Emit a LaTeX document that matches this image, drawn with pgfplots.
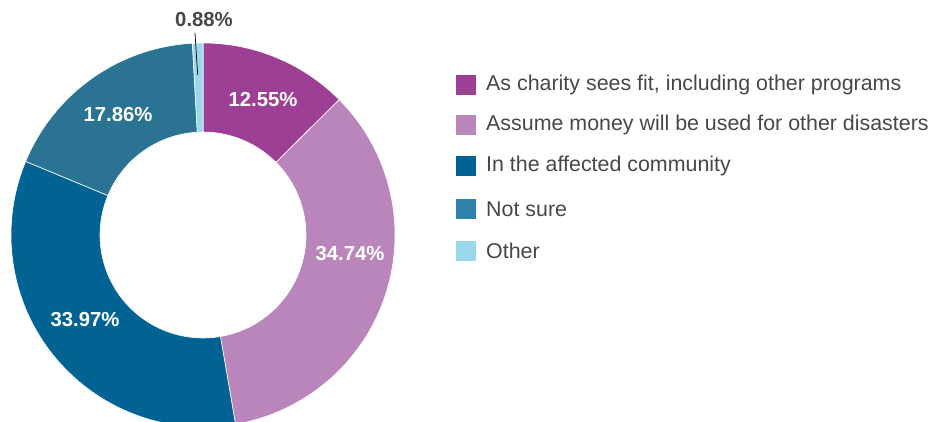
\documentclass[border=0pt]{standalone}
\usepackage{pgfplots}
\pgfplotsset{compat=1.18}
\usepackage{pgfplotstable}
\usepackage{fontspec}
\setmainfont{Liberation Sans}
\definecolor{cA}{HTML}{9C3F95}
\definecolor{cB}{HTML}{BA85BB}
\definecolor{cC}{HTML}{006394}
\definecolor{cD}{HTML}{2A7393}
\definecolor{cDl}{HTML}{2F83AA}
\definecolor{cE}{HTML}{98D8EA}
\definecolor{txt}{HTML}{474747}
\pgfplotstableread{
pct
12.55
34.74
33.97
17.86
0.88
}\data
\pgfplotstablegetelem{0}{pct}\of\data\let\pA\pgfplotsretval
\pgfplotstablegetelem{1}{pct}\of\data\let\pB\pgfplotsretval
\pgfplotstablegetelem{2}{pct}\of\data\let\pC\pgfplotsretval
\pgfplotstablegetelem{3}{pct}\of\data\let\pD\pgfplotsretval
\pgfplotstablegetelem{4}{pct}\of\data\let\pE\pgfplotsretval
\pgfmathsetmacro\tot{\pA+\pB+\pC+\pD+\pE}
\pgfmathsetmacro\aA{90}
\pgfmathsetmacro\aB{\aA-360*\pA/\tot}
\pgfmathsetmacro\aC{\aB-360*\pB/\tot}
\pgfmathsetmacro\aD{\aC-360*\pC/\tot}
\pgfmathsetmacro\aE{\aD-360*\pD/\tot}
\pgfmathsetmacro\aF{\aE-360*\pE/\tot}
\def\cx{203}\def\cy{187}\def\ro{192pt}\def\ri{103pt}
\newcommand\sector[3]{%
  \fill[#1,draw=white,line width=0.6pt] ([shift={(#2:\ro)}]axis cs:\cx,\cy) arc[start angle=#2,end angle=#3,radius=\ro]
    -- ([shift={(#3:\ri)}]axis cs:\cx,\cy) arc[start angle=#3,end angle=#2,radius=\ri] -- cycle;}
\begin{document}%
\begin{tikzpicture}
\begin{axis}[hide axis, x=1pt, y=1pt, xmin=0, xmax=930, ymin=0, ymax=422, clip=true]
\sector{cA}{\aA}{\aB}
\sector{cB}{\aB}{\aC}
\sector{cC}{\aC}{\aD}
\sector{cD}{\aD}{\aE}
\sector{cE}{\aE}{\aF}
\node[white,font=\fontsize{20.3}{24}\selectfont\bfseries] at (axis cs:263,322) {\pA\%};
\node[white,font=\fontsize{20.3}{24}\selectfont\bfseries] at (axis cs:350,168) {\pB\%};
\node[white,font=\fontsize{20.3}{24}\selectfont\bfseries] at (axis cs:85,102) {\pC\%};
\node[white,font=\fontsize{20.3}{24}\selectfont\bfseries] at (axis cs:118,307) {\pD\%};
\node[txt,font=\fontsize{20.3}{24}\selectfont\bfseries] at (axis cs:204,402) {\pE\%};
\draw[black,line width=0.7pt] (axis cs:195,389) -- (axis cs:197.7,347);
% legend
\fill[cA] (axis cs:456,327) rectangle (axis cs:476,347);
\fill[cB] (axis cs:456,287) rectangle (axis cs:476,307);
\fill[cC] (axis cs:456,246) rectangle (axis cs:476,266);
\fill[cDl] (axis cs:456,203) rectangle (axis cs:476,223);
\fill[cE] (axis cs:456,161) rectangle (axis cs:476,181);
\begin{scope}[every node/.style={anchor=west,inner sep=0pt,txt,font=\fontsize{21.4}{25}\selectfont}]
\node at (axis cs:486,337) {As charity sees fit, including other programs};
\node at (axis cs:486,297) {Assume money will be used for other disasters};
\node at (axis cs:486,256) {In the affected community};
\node at (axis cs:486,213) {Not sure};
\node at (axis cs:486,171) {Other};
\end{scope}
\end{axis}
\pgfresetboundingbox
\path (current axis.south west) rectangle (current axis.north east);
\end{tikzpicture}%
\end{document}
